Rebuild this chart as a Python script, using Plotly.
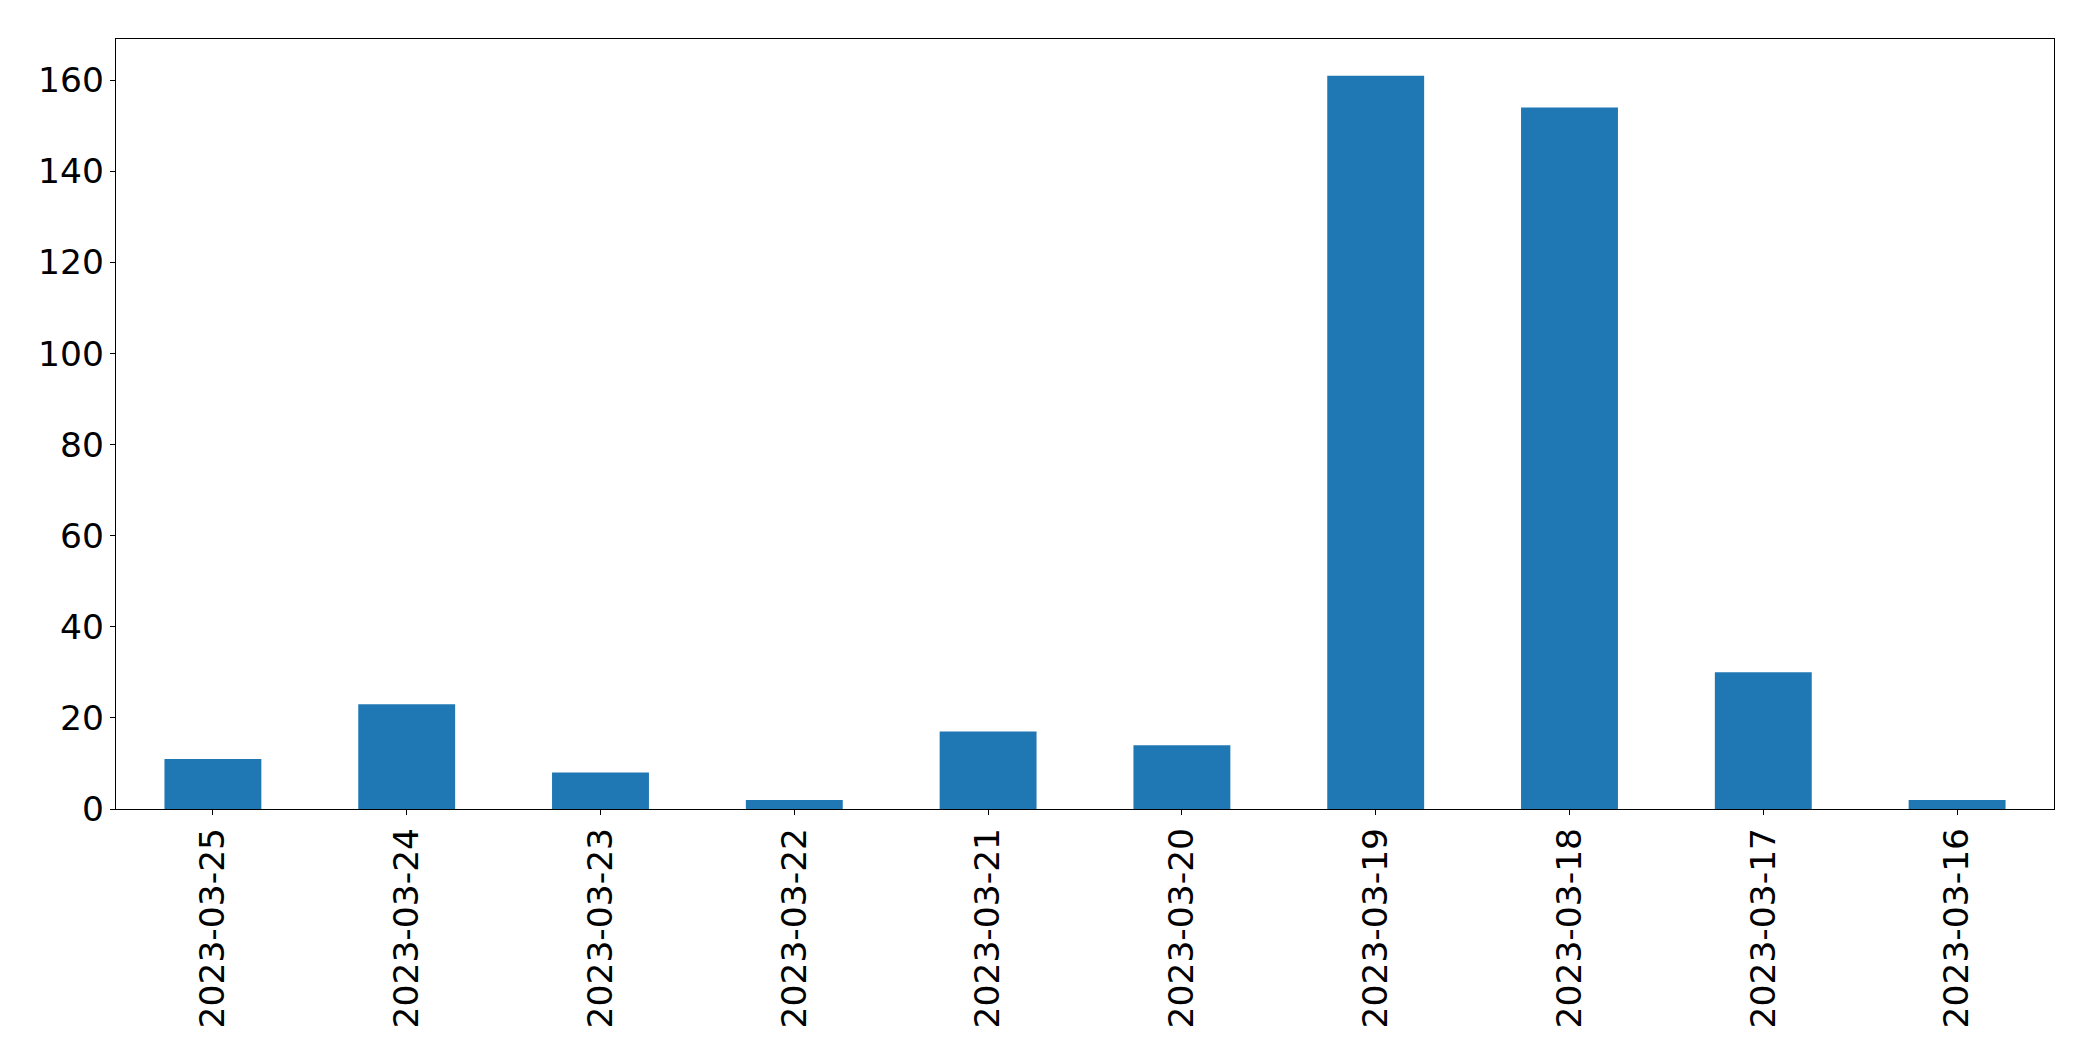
import plotly.graph_objects as go

dates = ["2023-03-25", "2023-03-24", "2023-03-23", "2023-03-22", "2023-03-21",
         "2023-03-20", "2023-03-19", "2023-03-18", "2023-03-17", "2023-03-16"]
counts = [11, 23, 8, 2, 17, 14, 161, 154, 30, 2]
y_ticks = [0, 20, 40, 60, 80, 100, 120, 140, 160]

fig = go.Figure(go.Bar(x=dates, y=counts, marker=dict(color="#1f77b4", line=dict(width=0)), width=0.5))

fig.update_layout(
    width=2093, height=1061,
    margin=dict(l=108, r=47, t=31, b=260),
    paper_bgcolor="white", plot_bgcolor="white",
    font=dict(family="DejaVu Sans", size=34.5, color="black"),
    showlegend=False,
    bargap=0.5,
)
fig.update_xaxes(
    type="category", range=[-0.5, 9.5], tickangle=-90,
    showline=True, linecolor="black", linewidth=1.3, mirror=True,
    ticks="outside", ticklen=5, tickcolor="black", tickwidth=1.3,
    showgrid=False, zeroline=False, ticklabelstandoff=-1,
)
fig.update_yaxes(
    range=[0, 169.05], tickvals=y_ticks,
    showline=True, linecolor="black", linewidth=1.3, mirror=True,
    ticks="outside", ticklen=5, tickcolor="black", tickwidth=1.3,
    showgrid=False, zeroline=False, ticklabelstandoff=-1,
)

fig.write_html("out.html")
